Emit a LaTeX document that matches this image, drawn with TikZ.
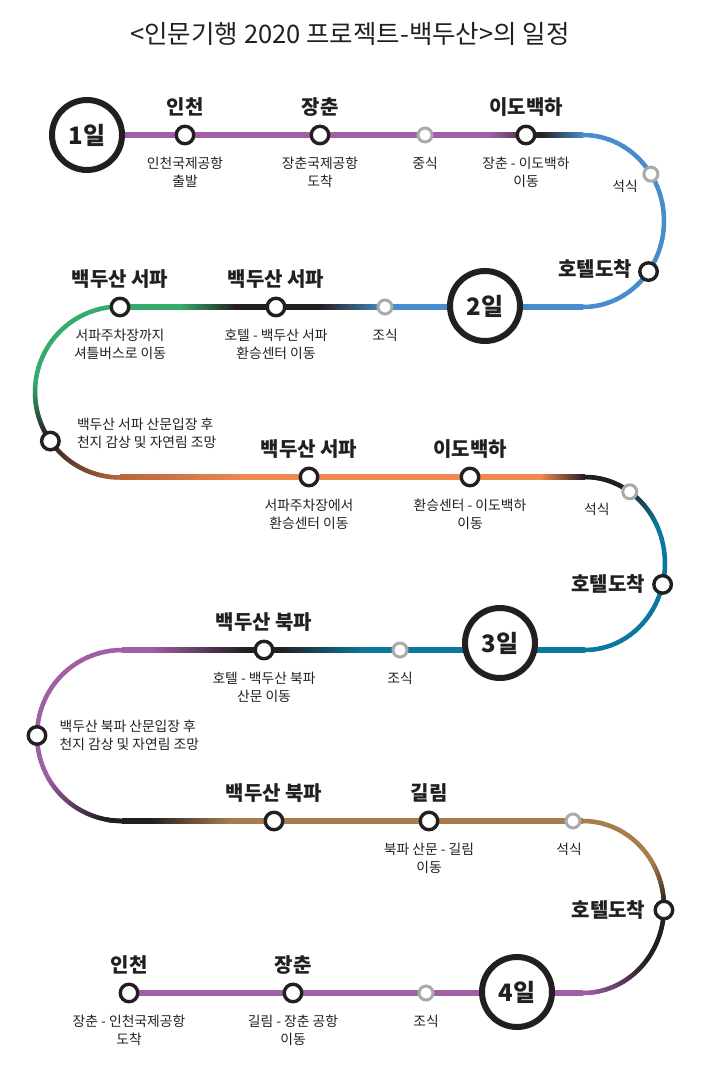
\documentclass[tikz,border=0pt]{standalone}
\usepackage{fontspec}
\setmainfont{Noto Sans CJK KR}
\usetikzlibrary{calc,positioning}
\definecolor{ink}{RGB}{35,31,32}
\definecolor{purp}{RGB}{160,95,165}
\definecolor{blu}{RGB}{72,140,205}
\definecolor{grn}{RGB}{55,170,110}
\definecolor{org}{RGB}{240,138,80}
\definecolor{rust}{RGB}{185,100,60}
\definecolor{sea}{RGB}{12,120,158}
\definecolor{brn}{RGB}{168,124,78}
\definecolor{mealgray}{RGB}{170,170,170}
\tikzset{
  rail/.style={line width=4.5, line cap=round},
  stop/.style={circle, draw=ink, fill=white, line width=3.4, minimum size=17.5, inner sep=0},
  mealstop/.style={circle, draw=mealgray, fill=white, line width=3, minimum size=14, inner sep=0},
  day/.style={circle, draw=ink, fill=white, line width=6, minimum size=70, inner sep=0,
    font=\bfseries\fontsize{24}{26}\selectfont, text=ink},
  place/.style={inner sep=0, font=\bfseries\fontsize{20}{22}\selectfont, text=ink},
  note/.style={inner sep=0, align=center, font=\fontsize{13.8}{18}\selectfont, text=ink}
}
% straight piece of the line: x1, x2, y, left colour, right colour
\newcommand\railh[5]{\shade[left color=#4, right color=#5] (#1,#3-2.25) rectangle (#2,#3+2.25);}
% bend of the line: centre, x radius, y radius, start angle, end angle, colours
\newcommand\railc[7]{%
  \foreach \k in {1,...,30}{%
    \pgfmathsetmacro\aa{#4+(#5-#4)*(\k-1)/30}%
    \pgfmathsetmacro\ab{#4+(#5-#4)*\k/30}%
    \pgfmathtruncatemacro\pc{100-100*(\k-0.5)/30}%
    \draw[rail, #6!\pc!#7] ($(#1)+(\aa:#2 and #3)$) arc[start angle=\aa, end angle=\ab, x radius=#2, y radius=#3];}}
\begin{document}
\begin{tikzpicture}[x=1pt, y=-1pt]
  \useasboundingbox (0,0) rectangle (708,1079);
  \node[font=\fontsize{25.5}{28}\selectfont, text=ink] (title) at (350,34) {<인문기행 2020 프로젝트-백두산>의 일정};

  \coordinate (c1) at (583,221); \coordinate (c2) at (120,392);
  \coordinate (c3) at (585,563.5); \coordinate (c4) at (122,735.5);
  \coordinate (c5) at (583,907);

  % day 1
  \railh{87}{490}{135}{purp}{purp} \railh{490}{540}{135}{purp}{ink} \railh{540}{583}{135}{ink}{blu}
  \railc{c1}{81}{86}{-90}{90}{blu}{blu}
  % day 2
  \railh{120}{180}{307}{grn}{grn} \railh{180}{235}{307}{grn}{ink} \railh{235}{320}{307}{ink}{ink}
  \railh{320}{385}{307}{ink}{blu} \railh{385}{583}{307}{blu}{blu}
  \railc{c2}{85}{85.5}{270}{185}{grn}{grn}
  \railc{c2}{85}{85.5}{185}{148}{grn}{ink}
  \railc{c2}{85}{85.5}{148}{90}{ink}{rust}
  \railh{120}{250}{477}{rust}{org} \railh{250}{540}{477}{org}{org} \railh{540}{585}{477}{org}{ink}
  \railc{c3}{80}{86.5}{-90}{-58}{ink}{ink}
  \railc{c3}{80}{86.5}{-58}{-25}{ink}{sea}
  \railc{c3}{80}{86.5}{-25}{90}{sea}{sea}
  % day 3
  \railh{122}{150}{650}{purp}{purp} \railh{150}{245}{650}{purp}{ink} \railh{245}{280}{650}{ink}{ink}
  \railh{280}{365}{650}{ink}{sea} \railh{365}{585}{650}{sea}{sea}
  \railc{c4}{85}{85.5}{270}{150}{purp}{purp}
  \railc{c4}{85}{85.5}{150}{100}{purp}{ink}
  \railc{c4}{85}{85.5}{100}{90}{ink}{ink}
  \railh{122}{150}{821}{ink}{ink} \railh{150}{230}{821}{ink}{brn} \railh{230}{583}{821}{brn}{brn}
  \railc{c5}{81}{86}{-90}{-30}{brn}{brn}
  \railc{c5}{81}{86}{-30}{0}{brn}{ink}
  \railc{c5}{81}{86}{0}{40}{ink}{ink}
  \railc{c5}{81}{86}{40}{90}{ink}{purp}
  % day 4
  \railh{129}{583}{993}{purp}{purp}

  % days
  \node[day] (d1) at (87,135) {1일};
  \node[day] (d2) at (485,306) {2일};
  \node[day] (d3) at (500,643) {3일};
  \node[day] (d4) at (517,992) {4일};

  % stops, day 1
  \node[stop] (s11) at (185,135) {};
  \node[stop] (s12) at (320,135) {};
  \node[mealstop] (m11) at (425,135) {};
  \node[stop] (s13) at (526,135) {};
  \node[mealstop] (m12) at ($(c1)+(-33:81 and 86)$) {};
  \node[stop] (h1) at ($(c1)+(36:81 and 86)$) {};
  \node[place, above=8pt of s11] {인천};
  \node[place, above=8pt of s12] {장춘};
  \node[place, above=8pt of s13] {이도백하};
  \node[note, below=11pt of s11] {인천국제공항\\출발};
  \node[note, below=11pt of s12] {장춘국제공항\\도착};
  \node[note, below=13pt of m11] {중식};
  \node[note, below=11pt of s13] {장춘 - 이도백하\\이동};
  \node[note, below left=0pt and 7pt of m12] {석식};
  \node[place, left=6pt of h1, yshift=3pt] {호텔도착};

  % stops, day 2
  \node[stop] (s21) at (120,307) {};
  \node[stop] (s22) at (276,307) {};
  \node[mealstop] (m21) at (385,307) {};
  \node[stop] (w2) at ($(c2)+(145:85 and 85.5)$) {};
  \node[stop] (s31) at (309,477) {};
  \node[stop] (s32) at (470,477) {};
  \node[mealstop] (m3) at ($(c3)+(-56:80 and 86.5)$) {};
  \node[stop] (h3) at ($(c3)+(14:80 and 86.5)$) {};
  \node[place, above=8pt of s21] {백두산 서파};
  \node[place, above=8pt of s22] {백두산 서파};
  \node[note, below=11pt of s21] {서파주차장까지\\셔틀버스로 이동};
  \node[note, below=11pt of s22] {호텔 - 백두산 서파\\환승센터 이동};
  \node[note, below=13pt of m21] {조식};
  \node[note, align=left, right=16pt of w2, yshift=8pt] {백두산 서파 산문입장 후\\천지 감상 및 자연림 조망};
  \node[place, above=8pt of s31] {백두산 서파};
  \node[place, above=8pt of s32] {이도백하};
  \node[note, below=11pt of s31] {서파주차장에서\\환승센터 이동};
  \node[note, below=11pt of s32] {환승센터 - 이도백하\\이동};
  \node[note, below left=5pt and 14pt of m3] {석식};
  \node[place, left=7pt of h3] {호텔도착};

  % stops, day 3
  \node[stop] (s41) at (264,650) {};
  \node[mealstop] (m4) at (400,650) {};
  \node[stop] (w4) at ($(c4)+(180:85 and 85.5)$) {};
  \node[stop] (s51) at (274,821) {};
  \node[stop] (s52) at (429,821) {};
  \node[mealstop] (m5) at (573,821) {};
  \node[stop] (h5) at ($(c5)+(2:81 and 86)$) {};
  \node[place, above=8pt of s41] {백두산 북파};
  \node[note, below=11pt of s41] {호텔 - 백두산 북파\\산문 이동};
  \node[note, below=13pt of m4] {조식};
  \node[note, align=left, right=12pt of w4] {백두산 북파 산문입장 후\\천지 감상 및 자연림 조망};
  \node[place, above=8pt of s51] {백두산 북파};
  \node[place, above=8pt of s52] {길림};
  \node[note, below=11pt of s52] {북파 산문 - 길림\\이동};
  \node[note, below=13pt of m5, xshift=-4pt] {석식};
  \node[place, left=8pt of h5] {호텔도착};

  % stops, day 4
  \node[stop] (s61) at (129,993) {};
  \node[stop] (s62) at (293,993) {};
  \node[mealstop] (m6) at (426,993) {};
  \node[place, above=8pt of s61] {인천};
  \node[place, above=8pt of s62] {장춘};
  \node[note, below=11pt of s61] {장춘 - 인천국제공항\\도착};
  \node[note, below=11pt of s62] {길림 - 장춘 공항\\이동};
  \node[note, below=13pt of m6] {조식};
\end{tikzpicture}
\end{document}
